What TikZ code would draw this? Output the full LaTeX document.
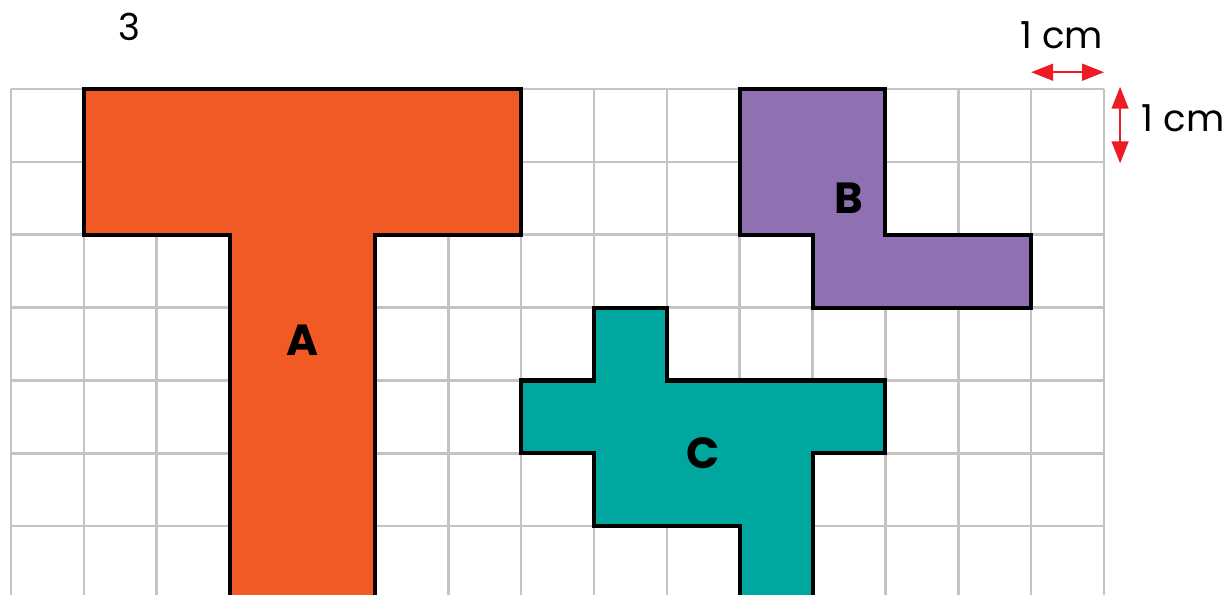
\documentclass[tikz,border=0pt]{standalone}
\usepackage{fontspec}
\setmainfont{Poppins}
\usetikzlibrary{arrows.meta}
\definecolor{tileorange}{HTML}{F15A24}
\definecolor{tilepurple}{HTML}{8F70B0}
\definecolor{tileteal}{HTML}{00A79E}
\definecolor{gridgrey}{HTML}{C4C4C4}
\definecolor{measurered}{HTML}{ED1C24}
\tikzset{
    % grid style
    grid line/.style = {line width=1pt, draw=gridgrey},
    % tile styles
    tile/.style = {line width=1.6pt, draw=black, line join=miter},
    orange tile/.style = {tile, fill=tileorange},
    purple tile/.style = {tile, fill=tilepurple},
    teal tile/.style = {tile, fill=tileteal},
    % label styles
    tile label/.style = {font=\fontsize{17}{20}\selectfont\bfseries, inner sep=0pt},
    plain label/.style = {font=\fontsize{14.5}{17}\selectfont, anchor=base, inner sep=0pt},
    % arrow style
    measure/.style = {<->, >={Triangle[length=3mm, width=2.3mm]}, line width=0.8pt, draw=measurered, fill=measurered}
}

\begin{document}
\begin{tikzpicture}
        \clip (-0.151,-6.944) rectangle (16.646,1.221);
        \useasboundingbox (-0.151,-6.944) rectangle (16.646,1.221);

        % squared paper
        \draw[grid line] (0,-6.944) grid (15,0);

        % tiles
        \draw[orange tile] (1,0) -- (7,0) -- (7,-2) -- (5,-2) -- (5,-7.5) -- (3,-7.5) -- (3,-2) -- (1,-2) -- cycle;
        \draw[purple tile] (10,0) -- (12,0) -- (12,-2) -- (14,-2) -- (14,-3) -- (11,-3) -- (11,-2) -- (10,-2) -- cycle;
        \draw[teal tile] (8,-3) -- (9,-3) -- (9,-4) -- (12,-4) -- (12,-5) -- (11,-5) -- (11,-7.5) -- (10,-7.5)
            -- (10,-6) -- (8,-6) -- (8,-5) -- (7,-5) -- (7,-4) -- (8,-4) -- cycle;

        \node[tile label] (labelA) at (4,-3.45) {A};
        \node[tile label] (labelB) at (11.5,-1.5) {B};
        \node[tile label] (labelC) at (9.5,-5) {C};

        % question number
        \node[plain label] (number) at (1.63,0.67) {3};

        % scale arrows
        \coordinate (hleft) at (14,0.23);
        \coordinate (hright) at (15,0.23);
        \coordinate (vtop) at (15.22,0.03);
        \coordinate (vbottom) at (15.22,-1.02);
        \draw[measure] (hleft) -- (hright);
        \draw[measure] (vtop) -- (vbottom);
        \node[plain label] (hlabel) at (14.42,0.55) {1 cm};
        \node[plain label, anchor=base west] (vlabel) at (15.51,-0.59) {1 cm};

    \end{tikzpicture}
\end{document}
